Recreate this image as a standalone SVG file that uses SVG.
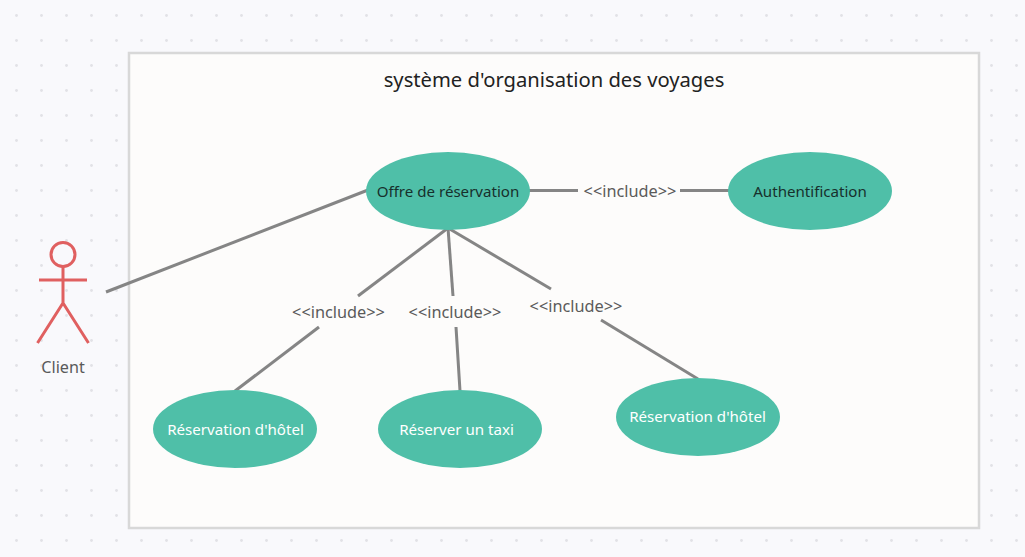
<svg xmlns="http://www.w3.org/2000/svg" width="1025" height="557" viewBox="0 0 1025 557">
<style>
text{font-family:"Noto Sans","Open Sans","Liberation Sans",sans-serif;text-anchor:middle}
.uc{fill:#4fbfa8}
.uct{font-size:15.1px;fill:#fff}
.dark{fill:#17302c}
.lbl{font-size:16.300px;fill:#5a5a5a}
.edge{stroke:#858585;stroke-width:3;fill:none}
.actor{stroke:#e06060;stroke-width:3;fill:none}
</style>
<defs>
<pattern id="dots" x="4" y="3" width="25" height="25" patternUnits="userSpaceOnUse">
<circle cx="12.5" cy="12.5" r="1.4" fill="#e2e2e6"/>
</pattern>
</defs>
<rect width="1025" height="557" fill="#f9f9fc"/>
<rect width="1025" height="557" fill="url(#dots)"/>
<g id="boundary">
<rect x="129" y="53" width="850" height="475" fill="#fdfcfb" stroke="#d8d8d8" stroke-width="2.5"/>
<text x="554" y="87" font-size="20.200" fill="#222">système d'organisation des voyages</text>
</g>
<g id="connectors">
<path class="edge" d="M106 292L368 190"/>
<path class="edge" d="M528 190.500H578"/>
<path class="edge" d="M680 190.500H730"/>
<path class="edge" d="M448 228L358 296"/>
<path class="edge" d="M319 327L235 391"/>
<path class="edge" d="M448 228L453 296"/>
<path class="edge" d="M456 327L460 391"/>
<path class="edge" d="M448 228L551 289"/>
<path class="edge" d="M601 320L698 379"/>
<text class="lbl" x="630" y="197">&lt;&lt;include&gt;&gt;</text>
<text class="lbl" x="338.500" y="317.500">&lt;&lt;include&gt;&gt;</text>
<text class="lbl" x="455" y="317.500">&lt;&lt;include&gt;&gt;</text>
<text class="lbl" x="576" y="311.500">&lt;&lt;include&gt;&gt;</text>
</g>
<g id="offre">
<ellipse class="uc" cx="448" cy="191" rx="82" ry="39"/>
<text class="uct dark" x="448" y="197">Offre de réservation</text>
</g>
<g id="auth">
<ellipse class="uc" cx="810" cy="191" rx="82" ry="39"/>
<text class="uct dark" x="810" y="197">Authentification</text>
</g>
<g id="hotel1">
<ellipse class="uc" cx="235" cy="429" rx="82" ry="39"/>
<text class="uct" x="235.500" y="434.500">Réservation d'hôtel</text>
</g>
<g id="taxi">
<ellipse class="uc" cx="460" cy="429" rx="82" ry="39"/>
<text class="uct" x="456.500" y="434.500">Réserver un taxi</text>
</g>
<g id="hotel2">
<ellipse class="uc" cx="698" cy="417" rx="82" ry="39"/>
<text class="uct" x="697.500" y="422">Réservation d'hôtel</text>
</g>
<g id="client">
<circle class="actor" cx="63" cy="254.500" r="12"/>
<path class="actor" d="M63 267V303M39 280H87M37.500 343L63 303L88.500 343"/>
<text x="63" y="372.500" font-size="16.200" fill="#5a5a5a">Client</text>
</g>
</svg>
